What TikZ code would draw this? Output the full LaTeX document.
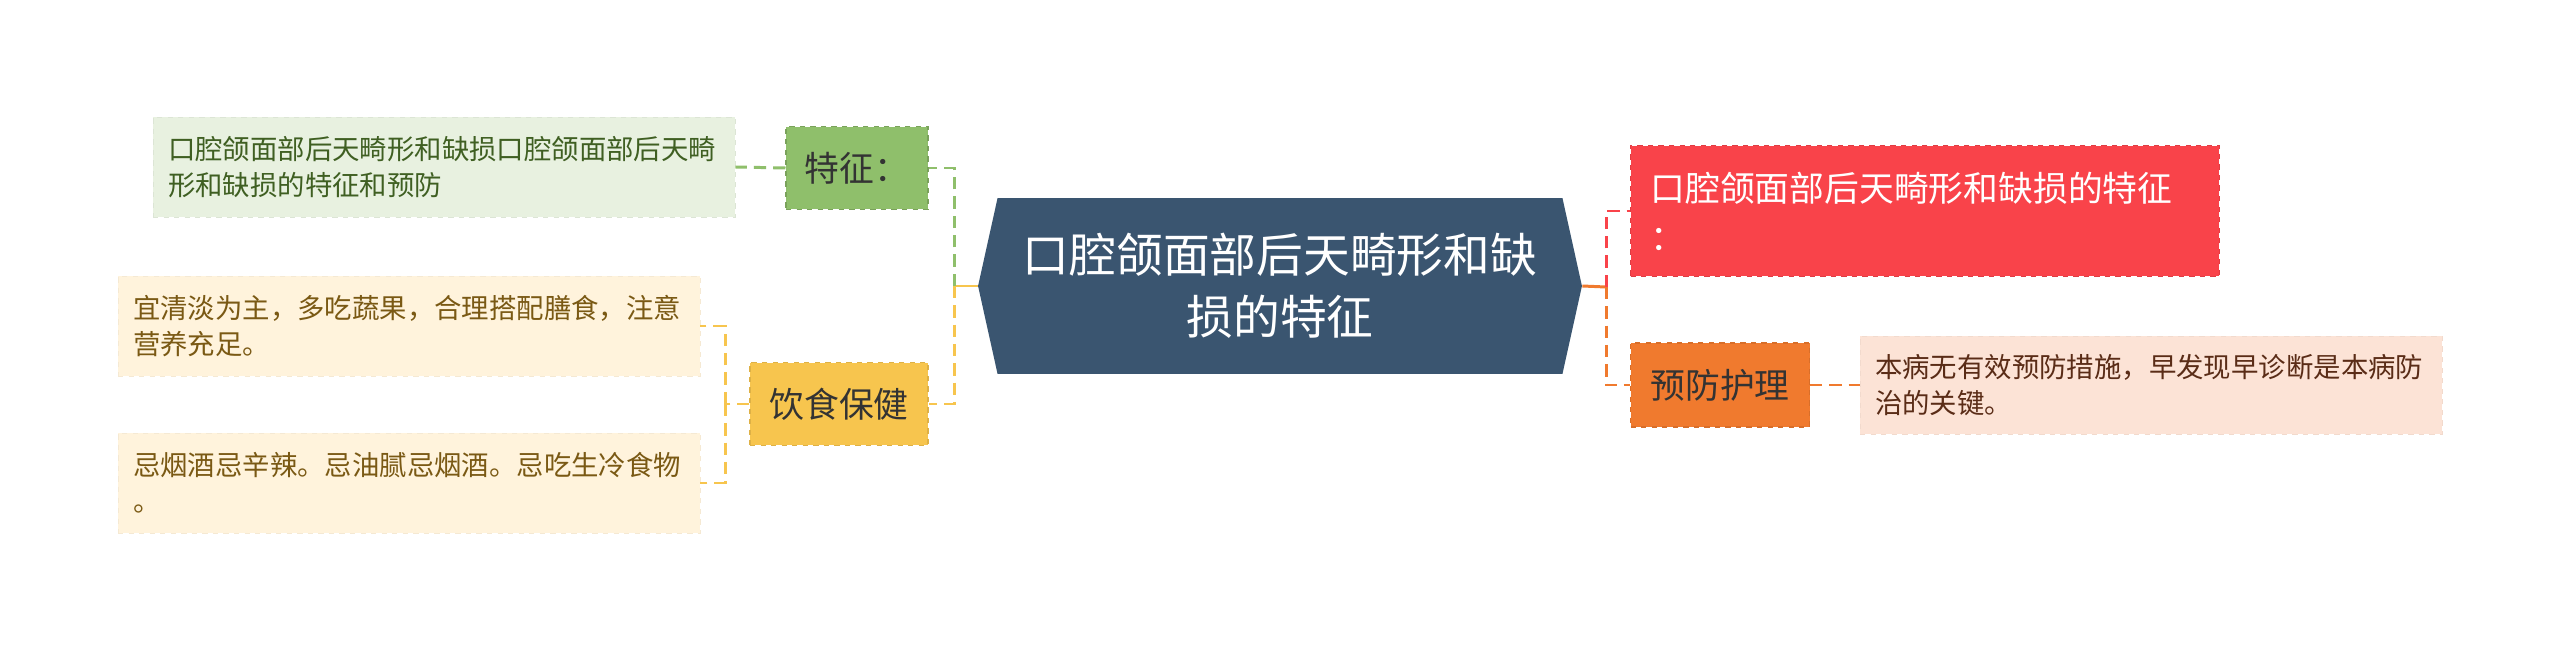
\documentclass[tikz,border=0pt]{standalone}
\usepackage{fontspec}
\setmainfont{Noto Sans CJK SC}
\usetikzlibrary{shapes.symbols}
\definecolor{rootblue}{HTML}{3A5570}
\definecolor{tzgreen}{HTML}{8FBF6B}
\definecolor{tzleaf}{HTML}{E8F1E0}
\definecolor{tztext}{HTML}{3F5F22}
\definecolor{ysyellow}{HTML}{F7C54E}
\definecolor{ysleaf}{HTML}{FFF3DC}
\definecolor{ystext}{HTML}{7A5914}
\definecolor{tzred}{HTML}{F9434A}
\definecolor{yforange}{HTML}{F07A2E}
\definecolor{yfleaf}{HTML}{FCE3D6}
\definecolor{yftext}{HTML}{5A2C17}

\begin{document}
\begin{tikzpicture}[x=0.02cm,y=-0.02cm,
	box/.style={minimum height=1.66cm,inner sep=0.3cm,dashed,line width=0.6pt,font=\fontsize{19.8pt}{27.8pt}\selectfont},
	leaf/.style={minimum height=2cm,inner xsep=0.3cm,text width=11.04cm,align=left,dashed,line width=0.5pt,font=\fontsize{15.6pt}{20.4pt}\selectfont},
	link/.style={line width=1.7pt,dash pattern=on 7pt off 4pt}]
	\useasboundingbox[fill=white] (0,0) rectangle (2560,652);
		\node[signal,signal to=west and east,signal pointer angle=155,fill=rootblue,text=white,minimum width=12.08cm,minimum height=3.52cm,align=center,font=\fontsize{26.6pt}{35.1pt}\selectfont] (root) at (1280,286) {口腔颌面部后天畸形和缺\\损的特征};
		\coordinate (lj) at (954,286);
		\coordinate (rj) at (1606,287);
		\coordinate (lb) at (725,404);
	%	left side
		\node[box,fill=tzgreen,draw=tzgreen!85!black,text=black!80,minimum width=2.84cm] (tz) at (857,168) {特征：};
		\node[box,fill=ysyellow,draw=ysyellow!90!black,text=black!80,minimum width=3.56cm] (ys) at (839,404) {饮食保健};
		\node[leaf,fill=tzleaf,draw=tzleaf!95!black,text=tztext] (tzl) at (444,167) {口腔颌面部后天畸形和缺损口腔颌面部后天畸\\形和缺损的特征和预防};
		\node[leaf,fill=ysleaf,draw=ysleaf!96!black,text=ystext] (ysa) at (409,326) {宜清淡为主，多吃蔬果，合理搭配膳食，注意\\营养充足。};
		\node[leaf,fill=ysleaf,draw=ysleaf!96!black,text=ystext] (ysb) at (409,483) {忌烟酒忌辛辣。忌油腻忌烟酒。忌吃生冷食物\\。};
	%	right side
		\node[box,fill=tzred,draw=tzred!90!black,text=white,inner xsep=0.4cm,text width=10.98cm,align=left,minimum height=2.62cm] (tzr) at (1925,211) {口腔颌面部后天畸形和缺损的特征\\：};
		\node[box,fill=yforange,draw=yforange!90!black,text=black!80,minimum width=3.58cm,minimum height=1.68cm] (yf) at (1720,385) {预防护理};
		\node[leaf,fill=yfleaf,draw=yfleaf!96!black,text=yftext,minimum height=1.96cm] (yfl) at (2151,385) {本病无有效预防措施，早发现早诊断是本病防\\治的关键。};
		\draw[line width=1.7pt,ysyellow] (root.west) -- (lj);
		\draw[link,tzgreen] (lj) |- (tz.east);
		\draw[link,ysyellow] (lj) |- (ys.east);
		\draw[link,tzgreen] (tz.west) -- (tzl.east);
		\draw[link,ysyellow] (ys.west) -- (lb);
		\draw[link,ysyellow] (lb) |- (ysa.east);
		\draw[link,ysyellow] (lb) |- (ysb.east);
		\draw[line width=1.7pt,yforange] (root.east) -- (rj);
		\draw[link,tzred] (rj) |- (tzr.west);
		\draw[link,yforange] (rj) |- (yf.west);
		\draw[link,yforange] (yf.east) -- (yfl.west);
	\end{tikzpicture}
\end{document}
